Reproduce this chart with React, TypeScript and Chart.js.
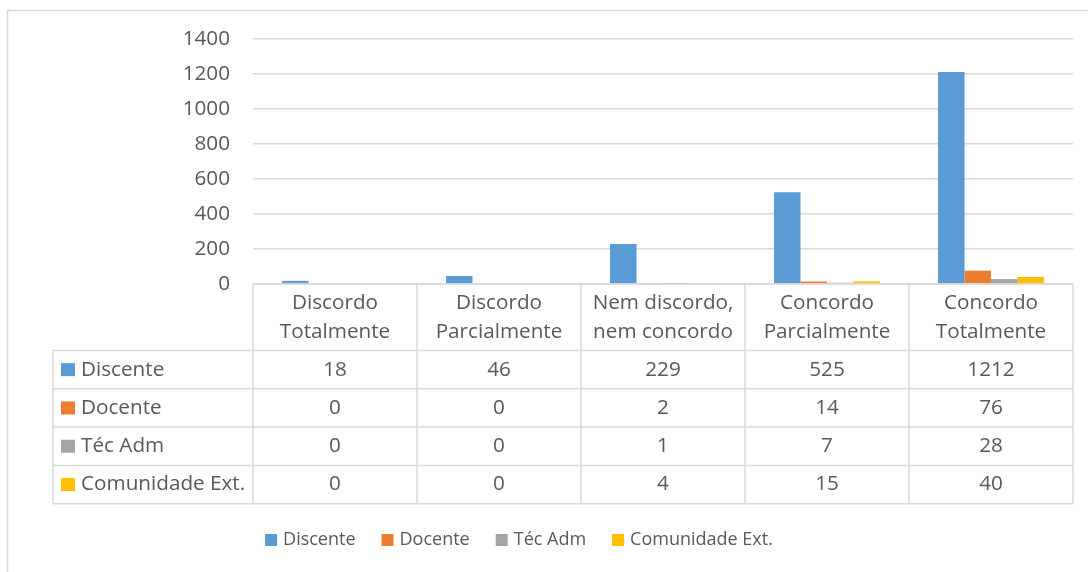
import React, { useEffect, useRef } from "react";
import { Chart, registerables } from "chart.js";

Chart.register(...registerables);

const categories: string[][] = [
  ["Discordo", "Totalmente"],
  ["Discordo", "Parcialmente"],
  ["Nem discordo,", "nem concordo"],
  ["Concordo", "Parcialmente"],
  ["Concordo", "Totalmente"],
];
const seriesNames = ["Discente", "Docente", "Téc Adm", "Comunidade Ext."];
const discente = [18, 46, 229, 525, 1212];
const docente = [0, 0, 2, 14, 76];
const tecAdm = [0, 0, 1, 7, 28];
const comunidade = [0, 0, 4, 15, 40];
const seriesColors = ["#5B9BD5", "#ED7D31", "#A5A5A5", "#FFC000"];
const yMin = 0;
const yMax = 1400;
const yStep = 200;

const FONT_FAMILY = '"Open Sans", "Noto Sans", sans-serif';
const FONT_SIZE = 20.7;
const LEGEND_FONT_SIZE = 18;
const TEXT_COLOR = "#595959";
const LINE_COLOR = "#D9D9D9";

const allSeries = [discente, docente, tecAdm, comunidade];

const tablePlugin = {
  id: "dataTableAndLegend",
  afterDraw(chart: any) {
    const ctx: CanvasRenderingContext2D = chart.ctx;
    const { left, right, bottom } = chart.chartArea;
    const n = categories.length;
    const colW = (right - left) / n;
    const labelLeft = 53;
    const headerTop = bottom;
    const headerBottom = bottom + 66.5;
    const rowH = 38.3;
    const tableBottom = headerBottom + rowH * allSeries.length;

    ctx.save();
    // outer chart border
    ctx.strokeStyle = LINE_COLOR;
    ctx.lineWidth = 1.5;
    ctx.strokeRect(7.5, 10.5, 1200, 700);

    // table lines
    ctx.beginPath();
    ctx.moveTo(left, headerTop);
    ctx.lineTo(right, headerTop);
    for (let r = 0; r <= allSeries.length; r++) {
      const y = headerBottom + r * rowH;
      ctx.moveTo(labelLeft, y);
      ctx.lineTo(right, y);
    }
    for (let c = 0; c <= n; c++) {
      const x = left + c * colW;
      ctx.moveTo(x, headerTop);
      ctx.lineTo(x, tableBottom);
    }
    ctx.moveTo(labelLeft, headerBottom);
    ctx.lineTo(labelLeft, tableBottom);
    ctx.stroke();

    ctx.font = `${FONT_SIZE}px ${FONT_FAMILY}`;
    ctx.fillStyle = TEXT_COLOR;
    ctx.textBaseline = "middle";
    ctx.textAlign = "center";

    // header
    categories.forEach((lines, i) => {
      const cx = chart.scales.x.getPixelForValue(i);
      lines.forEach((t, j) => {
        ctx.fillText(t, cx, headerTop + 19.5 + j * 28.3);
      });
    });

    // rows
    allSeries.forEach((vals, r) => {
      const cy = headerBottom + r * rowH + rowH / 2;
      ctx.fillStyle = seriesColors[r];
      ctx.fillRect(61, cy - 6.5, 14, 13);
      ctx.fillStyle = TEXT_COLOR;
      ctx.textAlign = "left";
      ctx.fillText(seriesNames[r], 81, cy);
      ctx.textAlign = "center";
      vals.forEach((v, i) => {
        const cx = chart.scales.x.getPixelForValue(i);
        ctx.fillText(String(v), cx, cy);
      });
    });

    // legend
    ctx.font = `${LEGEND_FONT_SIZE}px ${FONT_FAMILY}`;
    const sq = 12;
    const gapAfterSq = 6;
    const itemGap = 26;
    const widths = seriesNames.map((s) => sq + gapAfterSq + ctx.measureText(s).width);
    const total = widths.reduce((a, b) => a + b, 0) + itemGap * (widths.length - 1);
    let x = 519 - total / 2;
    const ly = 540;
    ctx.textAlign = "left";
    seriesNames.forEach((s, i) => {
      ctx.fillStyle = seriesColors[i];
      ctx.fillRect(x, ly - 6, sq, sq);
      ctx.fillStyle = TEXT_COLOR;
      ctx.fillText(s, x + sq + gapAfterSq, ly);
      x += widths[i] + itemGap;
    });
    ctx.restore();
  },
};

export default function App() {
  const canvasRef = useRef<HTMLCanvasElement | null>(null);

  useEffect(() => {
    const canvas = canvasRef.current;
    if (!canvas) return;
    const chart = new Chart(canvas, {
      type: "bar",
      data: {
        labels: categories.map((c) => c.join(" ")),
        datasets: allSeries.map((vals, i) => ({
          label: seriesNames[i],
          data: vals,
          backgroundColor: seriesColors[i],
          borderWidth: 0,
          barPercentage: 1,
          categoryPercentage: 0.646,
        })),
      },
      options: {
        responsive: false,
        animation: false,
        events: [],
        layout: { padding: { left: 0, top: 39, right: 15, bottom: 288 } },
        plugins: {
          legend: { display: false },
          tooltip: { enabled: false },
          title: { display: false },
        },
        scales: {
          x: {
            display: false,
            grid: { display: false },
          },
          y: {
            min: yMin,
            max: yMax,
            afterFit: (scale: any) => {
              scale.width = 253;
            },
            border: { display: false },
            grid: { color: LINE_COLOR, lineWidth: 1.5, drawTicks: false },
            ticks: {
              stepSize: yStep,
              padding: 23,
              color: TEXT_COLOR,
              font: { family: FONT_FAMILY, size: FONT_SIZE },
              callback: (value: any) => String(value),
            },
          },
        },
      },
      plugins: [tablePlugin],
    });
    return () => chart.destroy();
  }, []);

  return (
    <div style={{ position: "absolute", left: 0, top: 0, width: 1088, height: 572, background: "#fff" }}>
      <canvas ref={canvasRef} width={1088} height={572} style={{ display: "block" }} />
    </div>
  );
}
